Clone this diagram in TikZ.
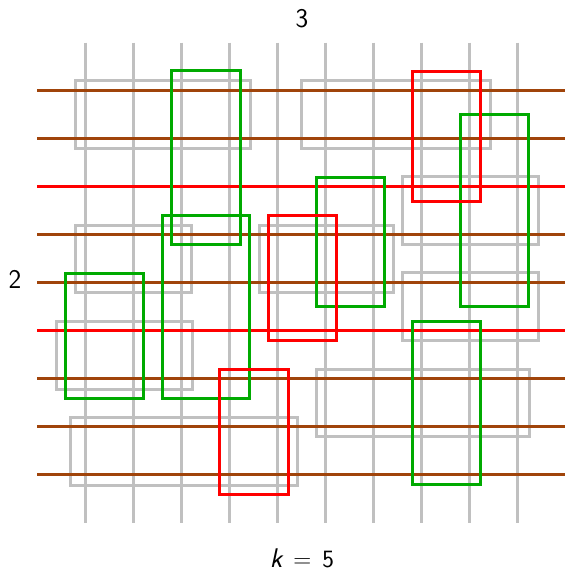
\documentclass[tikz,border=0pt]{standalone}
\usepackage{tikz}
\definecolor{gridG}{HTML}{C0C0C0}
\definecolor{rowB}{HTML}{A0440A}
\definecolor{hitR}{HTML}{FF0000}
\definecolor{boxG}{HTML}{00AA00}

\begin{document}
\begin{tikzpicture}[
    x=1pt,y=-1pt,
    font=\sffamily,
    col/.style={gridG,line width=3pt},
    row/.style={rowB,line width=3pt},
    hot/.style={hitR,line width=3pt},
    pale/.style={draw=gridG,line width=3pt},
    good/.style={draw=boxG,line width=3pt},
    bad/.style={draw=hitR,line width=3pt},
    lab/.style={inner sep=0pt,font=\fontsize{27}{30}\selectfont\sffamily},
]
\useasboundingbox (0,0) rectangle (565,571);

% =====================================================================
%  columns (k = 5)
% =====================================================================
\foreach \i in {0,...,9}
   \draw[col] (85.3+48*\i,42.7) -- (85.3+48*\i,522.7);

% =====================================================================
%  pale rectangles
% =====================================================================
\draw[pale] (75,80)   rectangle (250,148);
\draw[pale] (301,80)  rectangle (490,148);
\draw[pale] (402,176) rectangle (538,244);
\draw[pale] (75,225)  rectangle (191,292);
\draw[pale] (259,225) rectangle (393,292);
\draw[pale] (402,272) rectangle (538,340);
\draw[pale] (56,321)  rectangle (192,389);
\draw[pale] (316,369) rectangle (529,436);
\draw[pale] (70,417)  rectangle (297,485);

% =====================================================================
%  rows (two of them marked red)
% =====================================================================
\foreach \j in {0,1,3,4,6,7,8}
   \draw[row] (37.3,90+48*\j) -- (565,90+48*\j);
\foreach \j in {2,5}
   \draw[hot] (37.3,90+48*\j) -- (565,90+48*\j);

% =====================================================================
%  green and red boxes
% =====================================================================
\draw[good] (171,70)  rectangle (240,244);
\draw[good] (162,215) rectangle (249,398);
\draw[good] (65,273)  rectangle (143,398);
\draw[good] (316,177) rectangle (384,306);
\draw[good] (460,114) rectangle (528,306);
\draw[good] (412,321) rectangle (480,484);

\draw[bad] (412,71)  rectangle (480,201);
\draw[bad] (268,215) rectangle (336,340);
\draw[bad] (219,369) rectangle (288,494);

% =====================================================================
%  labels
% =====================================================================
\node[lab] (top) at (302,19) {3};
\node[lab] (left) at (15,279) {2};
\node[lab] (bottom) at (302,558)
     {$\textit{k}\mskip3mu=\mskip3mu\mathsf{5}$};

\end{tikzpicture}
\end{document}
